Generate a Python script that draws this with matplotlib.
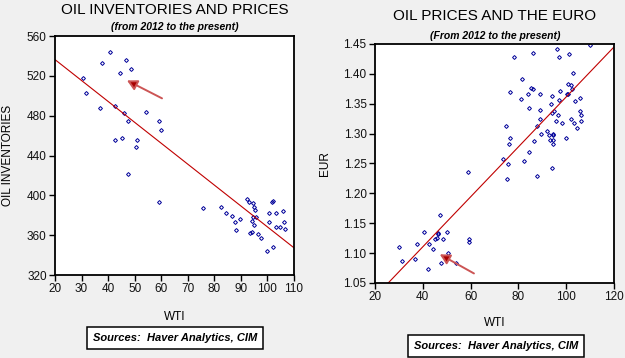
import matplotlib
matplotlib.use('Agg')
import matplotlib.pyplot as plt
import numpy as np

plt.rcParams['font.family'] = ['Liberation Sans', 'DejaVu Sans']

# -- donnees : WTI vs stocks de petrole
wti_stocks = [30.5, 31.7, 37.1, 37.8, 40.6, 42.6, 42.7, 44.6, 45.3, 46.1, 46.6, 47.6, 48.7,
              50.5, 50.9, 54.3, 59.3, 59.9, 47.5, 59.3, 75.8, 82.4, 84.4, 86.6, 87.9, 88.3,
              89.6, 92.2, 93.0, 93.3, 94.0, 94.3, 94.7, 94.9, 94.7, 95.6, 95.3, 94.8, 96.5,
              97.7, 100.0, 100.6, 100.7, 101.9, 102.1, 102.2, 103.3, 103.4, 104.7, 105.7,
              106.2, 106.6]
stocks = [518, 502.5, 487.4, 532.6, 543.6, 489.4, 455.3, 522.5, 457.9, 482.7, 535.6, 474.7, 526.5,
          448.6, 455.3, 483.4, 474.7, 465.6, 421.8, 393.6, 387.3, 388, 382, 379.3, 373, 365.2,
          376.3, 396.7, 393.3, 361.9, 374, 363.2, 392, 388, 378, 378, 385.3, 370.3, 361.2,
          357.5, 343.8, 382, 373.3, 393.6, 394.5, 347.8, 382.7, 368.6, 367.9, 384,
          373, 366]

# -- WTI vs euro
wti_eur = [30.2, 31.4, 37.6, 36.9, 40.6, 42.5, 42.3, 44.4, 45.2, 46.1, 46.4, 46.5, 47.4, 47.6,
           48.6, 50.3, 50.7, 53.8, 59.5, 59.2, 59.0,
           75.2, 73.7, 75.6, 74.9, 76.5, 76.2, 76.6, 78.2, 81.1, 81.6, 82.3, 83.9, 84.3, 84.4,
           85.3, 86.0, 86.0, 86.4, 87.9, 88.9, 89.2, 89.2, 89.5, 87.9, 91.8, 92.7, 93.1, 93.6,
           94.2, 94.1, 95.1, 94.3, 94.5, 94.3, 94.6, 93.9, 95.9, 96.2, 96.4, 96.8, 97.1, 97.5,
           98.4, 99.9, 100.3, 100.8, 100.6, 101.9, 101.2, 102.1, 102.3, 102.7, 103.3, 103.6,
           104.5, 105.6, 105.9, 106.1, 106.0, 109.8]
eur = [1.110, 1.087, 1.115, 1.090, 1.135, 1.115, 1.074, 1.107, 1.124, 1.125, 1.132, 1.134, 1.163, 1.083,
       1.124, 1.136, 1.101, 1.083, 1.124, 1.119, 1.235,
       1.224, 1.257, 1.249, 1.312, 1.369, 1.283, 1.292, 1.428, 1.358, 1.392, 1.255, 1.366, 1.343, 1.269,
       1.376, 1.374, 1.435, 1.287, 1.313, 1.324, 1.367, 1.339, 1.299, 1.229, 1.304, 1.297, 1.290, 1.350,
       1.363, 1.334, 1.338, 1.289, 1.282, 1.300, 1.297, 1.243, 1.321, 1.442, 1.332, 1.357, 1.429, 1.372,
       1.317, 1.293, 1.366, 1.367, 1.383, 1.382, 1.434, 1.325, 1.375, 1.402, 1.317, 1.355,
       1.309, 1.360, 1.338, 1.332, 1.321, 1.448]

# fleches (queue, pointe)
fleche_gauche = [(60.3, 497.4), (47.1, 515.4)]
fleche_droite = [(61.4, 1.066), (47.1, 1.098)]

bleu = '#000099'
rouge = '#c00000'

fig = plt.figure(figsize=(6.25, 3.58), dpi=100, facecolor='#f0f0f0')
ax1 = fig.add_axes([0.088, 0.2318, 0.3824, 0.6676])
ax2 = fig.add_axes([0.600, 0.2095, 0.3824, 0.6676])


def style_axe(ax):
    ax.set_facecolor('white')
    for s in ax.spines.values():
        s.set_linewidth(1.3)
        s.set_color('black')
    ax.tick_params(direction='out', length=4, width=1, labelsize=8.5, pad=2,
                   top=False, right=False, labelcolor='#111111')


def fleche(ax, f):
    ax.annotate('', xy=f[1], xytext=f[0],
                arrowprops=dict(arrowstyle='-|>,head_length=0.6,head_width=0.32',
                                ec='#cc5555', fc='#a80000', lw=1.4, shrinkA=0, shrinkB=0))


# graphe de gauche
style_axe(ax1)
ax1.plot(wti_stocks, stocks, 'D', ms=2.0, mfc='none', mec=bleu, mew=0.7)
a, b = np.polyfit(wti_stocks, stocks, 1)
xx = np.array([20, 110])
ax1.plot(xx, a * xx + b, color=rouge, lw=0.8)
fleche(ax1, fleche_gauche)
ax1.set_xlim(20, 110)
ax1.set_ylim(320, 560)
ax1.set_xticks(np.arange(20, 111, 10))
ax1.set_yticks(np.arange(320, 561, 40))
ax1.set_ylabel('OIL INVENTORIES', fontsize=8.5, labelpad=9)
ax1.set_xlabel('WTI', fontsize=8.5, labelpad=11)

fig.text(0.28, 0.972, 'OIL INVENTORIES AND PRICES', ha='center', va='center', fontsize=11)
fig.text(0.28, 0.925, '(from 2012 to the present)', ha='center', va='center',
         fontsize=7.5, fontweight='bold', style='italic')
fig.text(0.28, 0.056, 'Sources:  Haver Analytics, CIM', ha='center', va='center',
         fontsize=8, fontweight='bold', style='italic',
         bbox=dict(boxstyle='square,pad=0.55', fc='white', ec='black', lw=1.1))

# graphe de droite
style_axe(ax2)
ax2.plot(wti_eur, eur, 'D', ms=2.0, mfc='none', mec=bleu, mew=0.7)
c, d = np.polyfit(wti_eur, eur, 1)
xx = np.array([20, 120])
ax2.plot(xx, c * xx + d, color=rouge, lw=0.8)
fleche(ax2, fleche_droite)
ax2.set_xlim(20, 120)
ax2.set_ylim(1.05, 1.45)
ax2.set_xticks(np.arange(20, 121, 20))
ax2.set_yticks(np.arange(1.05, 1.451, 0.05))
ax2.set_yticklabels(['%.2f' % v for v in np.arange(1.05, 1.451, 0.05)])
ax2.set_ylabel('EUR', fontsize=8.5, labelpad=9)
ax2.set_xlabel('WTI', fontsize=8.5, labelpad=10)

fig.text(0.792, 0.955, 'OIL PRICES AND THE EURO', ha='center', va='center', fontsize=11)
fig.text(0.792, 0.899, '(From 2012 to the present)', ha='center', va='center',
         fontsize=7.5, fontweight='bold', style='italic')
fig.text(0.794, 0.034, 'Sources:  Haver Analytics, CIM', ha='center', va='center',
         fontsize=8, fontweight='bold', style='italic',
         bbox=dict(boxstyle='square,pad=0.55', fc='white', ec='black', lw=1.1))

fig.savefig('out.png', dpi=100, facecolor=fig.get_facecolor())
